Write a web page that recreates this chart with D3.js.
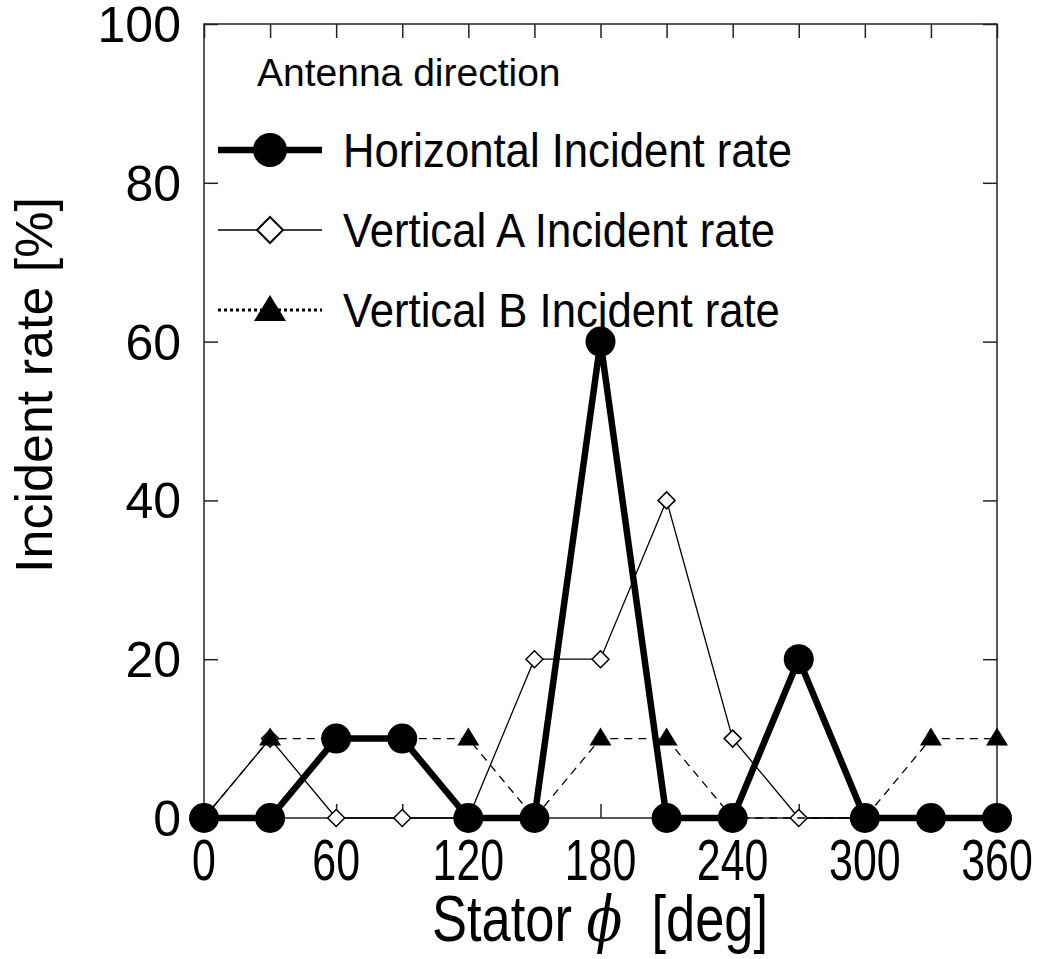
<!DOCTYPE html>
<html>
<head>
<meta charset="utf-8">
<script src="https://cdn.jsdelivr.net/npm/d3@7"></script>
<style>
  html, body { margin: 0; padding: 0; background: #fff; }
  svg { display: block; }
  text { font-family: "Liberation Sans", Arial, sans-serif; fill: #000; }
</style>
</head>
<body>
<svg id="chart" width="1047" height="959"></svg>
<script>
// Stator angle (deg) at which each incident rate was measured
const angles = [0, 30, 60, 90, 120, 150, 180, 210, 240, 270, 300, 330, 360];
// Incident rate [%] for each antenna direction (null = no measurement)
const horizontalRate = [0, 0, 10, 10, 0, 0, 60, 0, 0, 20, 0, 0, 0];
const verticalARate  = [0, 10, 0, 0, 0, 20, 20, 40, 10, 0, 0, 0, 0];
const verticalBRate  = [0, 10, 10, 10, 10, 0, 10, 10, 0, null, 0, 10, 10];
// Axis ticks
const xTickValues = [0, 30, 60, 90, 120, 150, 180, 210, 240, 270, 300, 330, 360];
const xTickLabels = [0, 60, 120, 180, 240, 300, 360];
const yTickValues = [0, 20, 40, 60, 80, 100];
const legendTitle = "Antenna direction";
const seriesNames = ["Horizontal Incident rate", "Vertical A Incident rate", "Vertical B Incident rate"];

const svg = d3.select("#chart");
const mLeft = 204, mRight = 997, mTop = 24, mBottom = 818;

const x = d3.scaleLinear().domain([0, 360]).range([mLeft, mRight]);
const y = d3.scaleLinear().domain([0, 100]).range([mBottom, mTop]);

const frameColor = "#222";
const tickLen = 14;

// Ticks pointing inward on all four sides
const g = svg.append("g");
const axB = g.append("g").attr("transform", `translate(0,${mBottom})`)
  .call(d3.axisBottom(x).tickValues(xTickValues).tickSize(-tickLen).tickFormat(""));
const axT = g.append("g").attr("transform", `translate(0,${mTop})`)
  .call(d3.axisTop(x).tickValues(xTickValues).tickSize(-tickLen).tickFormat(""));
const axL = g.append("g").attr("transform", `translate(${mLeft},0)`)
  .call(d3.axisLeft(y).tickValues(yTickValues).tickSize(-tickLen).tickFormat(""));
const axR = g.append("g").attr("transform", `translate(${mRight},0)`)
  .call(d3.axisRight(y).tickValues(yTickValues).tickSize(-tickLen).tickFormat(""));
[axB, axT, axL, axR].forEach(a => {
  a.select(".domain").remove();
  a.selectAll("line").attr("stroke", frameColor).attr("stroke-width", 1.5);
});

// Plot frame
g.append("rect")
  .attr("x", mLeft).attr("y", mTop)
  .attr("width", mRight - mLeft).attr("height", mBottom - mTop)
  .attr("fill", "none").attr("stroke", frameColor).attr("stroke-width", 1.5);

// Y tick labels
svg.append("g").selectAll("text").data(yTickValues).join("text")
  .attr("x", 181).attr("y", d => y(d) + 18)
  .attr("text-anchor", "end")
  .attr("font-size", 50)
  .text(d => d);

// X tick labels (narrow lettering)
svg.append("g").selectAll("text").data(xTickLabels).join("text")
  .attr("transform", d => `translate(${x(d)},880) scale(0.74,1)`)
  .attr("text-anchor", "middle")
  .attr("font-size", 58)
  .text(d => d);

// Axis titles
const xt = svg.append("text")
  .attr("transform", `translate(600,941) scale(0.82,1)`)
  .attr("text-anchor", "middle")
  .attr("font-size", 64);
xt.append("tspan").text("Stator ");
xt.append("tspan").attr("font-style", "italic").attr("font-family", "DejaVu Serif").text("\u03D5");
xt.append("tspan").text("\u00A0 [deg]");

svg.append("text")
  .attr("transform", `translate(52,385) rotate(-90)`)
  .attr("text-anchor", "middle")
  .attr("font-size", 52)
  .text("Incident rate [%]");

// Series
const pts = vals => angles.map((a, i) => [a, vals[i]]).filter(d => d[1] != null);
const line = d3.line().x(d => x(d[0])).y(d => y(d[1]));

const plot = svg.append("g");

// Vertical A: thin solid line, open diamonds
plot.append("path").datum(pts(verticalARate))
  .attr("d", line).attr("fill", "none").attr("stroke", "#000").attr("stroke-width", 1.3);
plot.append("g").selectAll("path").data(pts(verticalARate)).join("path")
  .attr("transform", d => `translate(${x(d[0])},${y(d[1])})`)
  .attr("d", "M0,-8.5L8.5,0L0,8.5L-8.5,0Z")
  .attr("fill", "#fff").attr("stroke", "#000").attr("stroke-width", 1.5);

// Vertical B: dashed line, filled triangles
plot.append("path").datum(pts(verticalBRate))
  .attr("d", line).attr("fill", "none").attr("stroke", "#000").attr("stroke-width", 1.3)
  .attr("stroke-dasharray", "8,6");
const tri = "M0,-11L11,7L-11,7Z";
plot.append("g").selectAll("path").data(pts(verticalBRate)).join("path")
  .attr("transform", d => `translate(${x(d[0])},${y(d[1])})`)
  .attr("d", tri).attr("fill", "#000");

// Horizontal: thick line, filled circles
plot.append("path").datum(pts(horizontalRate))
  .attr("d", line).attr("fill", "none").attr("stroke", "#000").attr("stroke-width", 6.5)
  .attr("stroke-linejoin", "round");
plot.append("g").selectAll("circle").data(pts(horizontalRate)).join("circle")
  .attr("cx", d => x(d[0])).attr("cy", d => y(d[1])).attr("r", 15).attr("fill", "#000");

// Legend
const lg = svg.append("g");
lg.append("text").attr("x", 257).attr("y", 86).attr("font-size", 39).text(legendTitle);
const rows = [150, 230, 310];
const lx0 = 218, lx1 = 322, lmx = 270;
// Horizontal
lg.append("line").attr("x1", lx0).attr("x2", lx1).attr("y1", rows[0]).attr("y2", rows[0])
  .attr("stroke", "#000").attr("stroke-width", 6.5);
lg.append("circle").attr("cx", lmx).attr("cy", rows[0]).attr("r", 17).attr("fill", "#000");
// Vertical A
lg.append("line").attr("x1", lx0).attr("x2", lx1).attr("y1", rows[1]).attr("y2", rows[1])
  .attr("stroke", "#000").attr("stroke-width", 1.3);
lg.append("path").attr("transform", `translate(${lmx},${rows[1]})`)
  .attr("d", "M0,-13L13,0L0,13L-13,0Z")
  .attr("fill", "#fff").attr("stroke", "#000").attr("stroke-width", 2);
// Vertical B
lg.append("line").attr("x1", lx0).attr("x2", lx1).attr("y1", rows[2]).attr("y2", rows[2])
  .attr("stroke", "#000").attr("stroke-width", 3).attr("stroke-dasharray", "3,3");
lg.append("path").attr("transform", `translate(${lmx},${rows[2]})`)
  .attr("d", "M0,-15L16,11L-16,11Z").attr("fill", "#000");
lg.selectAll("text.entry").data(seriesNames).join("text").attr("class", "entry")
  .attr("transform", (d, i) => `translate(343,${rows[i] + 17}) scale(0.91,1)`)
  .attr("font-size", 48)
  .text(d => d);
</script>
</body>
</html>
